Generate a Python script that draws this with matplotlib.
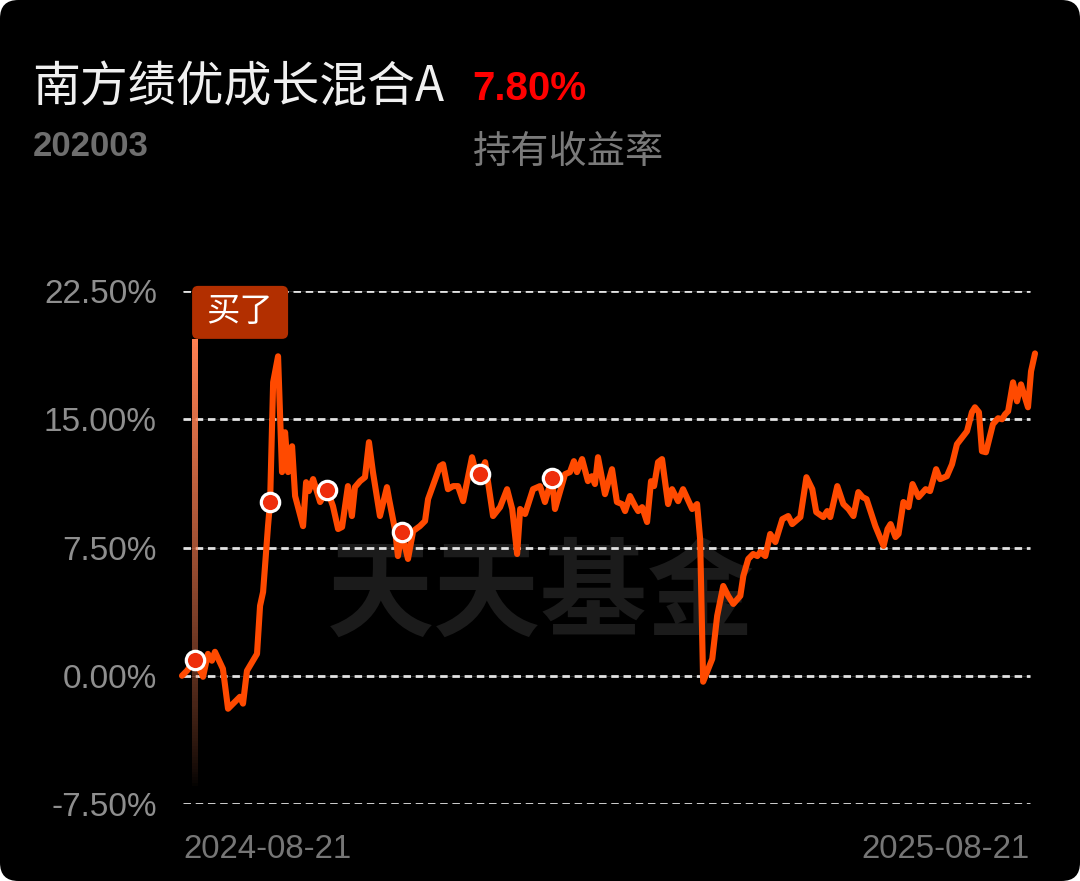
import numpy as np
import matplotlib
matplotlib.use("Agg")
import matplotlib.pyplot as plt
from matplotlib import font_manager
from matplotlib.collections import LineCollection
from matplotlib.patches import FancyBboxPatch
from matplotlib.transforms import IdentityTransform

plt.rcParams['font.family'] = ['Liberation Sans', 'Noto Sans CJK SC', 'DejaVu Sans']

# days since 2024-08-21 and holding return (%)
days = [0.0, 2.1, 5.6, 9.0, 11.1, 12.8, 14.1, 17.5, 19.7, 24.8, 26.1, 27.8, 32.1, 33.4, 34.7,
        36.8, 37.7, 39.0, 41.1, 42.8, 44.1, 45.4, 47.1, 48.4, 51.8, 53.1, 54.3, 56.1, 59.1,
        62.1, 64.6, 66.8, 68.5, 71.0, 72.7, 74.0, 76.2, 78.3, 80.0, 81.7, 84.7, 87.7, 88.6,
        91.1, 92.4, 94.1, 95.4, 96.7, 98.9, 101.8, 104.0, 105.3, 110.4, 111.7, 113.8, 116.0,
        118.1, 120.3, 124.1, 125.4, 127.5, 129.7, 133.1, 136.1, 139.1, 141.3, 143.4, 144.7,
        146.8, 150.2, 153.2, 155.3, 158.3, 159.6, 163.9, 166.0, 167.7, 169.0, 171.2, 173.7,
        175.4, 176.7, 178.0, 181.0, 184.0, 186.1, 188.3, 189.6, 191.7, 193.9, 195.2, 196.9,
        199.0, 200.7, 202.0, 203.7, 205.4, 208.0, 209.7, 212.3, 214.4, 218.3, 220.4, 221.7,
        223.0, 225.2, 226.9, 229.0, 231.6, 233.7, 235.9, 238.9, 240.2, 242.3, 244.4, 246.2,
        247.4, 249.6, 251.7, 253.9, 256.9, 259.4, 261.1, 264.6, 267.2, 269.7, 271.4, 274.4,
        276.1, 277.4, 280.4, 283.0, 285.2, 287.3, 289.4, 291.2, 292.9, 296.7, 300.2, 301.9,
        303.2, 305.3, 306.6, 308.7, 310.9, 312.6, 315.2, 318.2, 320.1, 322.7, 324.4, 327.3,
        329.5, 331.6, 335.9, 338.0, 339.3, 341.0, 342.3, 344.0, 347.0, 349.2, 350.9, 352.2,
        353.5, 355.6, 357.3, 359.0, 362.0, 363.3, 365.0]
vals = [0.00, 0.29, 0.93, -0.06, 1.28, 0.88, 1.40, 0.41, -1.93, -1.23, -1.63, 0.29, 1.28, 4.09,
        4.90, 8.75, 10.16, 17.16, 18.68, 11.91, 14.24, 11.91, 13.42, 10.51, 8.75, 11.32, 10.80,
        11.50, 10.16, 10.86, 9.92, 8.58, 8.70, 11.09, 9.34, 11.03, 11.38, 11.61, 13.66, 11.91,
        9.34, 11.03, 10.33, 8.58, 7.00, 8.40, 7.59, 6.83, 8.46, 8.75, 9.05, 10.33, 12.26, 12.37,
        10.91, 11.09, 11.09, 10.21, 12.78, 12.08, 11.79, 12.49, 9.34, 9.86, 10.91, 9.75, 7.12,
        9.75, 9.46, 10.91, 11.09, 10.16, 11.56, 9.75, 11.79, 11.91, 12.55, 11.91, 12.67, 11.38,
        11.67, 11.21, 12.78, 10.62, 12.08, 10.16, 10.04, 9.63, 10.51, 9.92, 9.63, 9.86, 8.99,
        11.38, 11.09, 12.49, 12.67, 10.04, 10.91, 10.21, 10.91, 9.75, 10.04, 8.00, -0.35, 0.41,
        0.99, 3.50, 5.25, 4.67, 4.20, 4.67, 5.84, 6.83, 7.12, 7.00, 7.24, 7.00, 8.29, 7.82,
        9.16, 9.34, 8.87, 9.28, 11.61, 10.91, 9.57, 9.28, 9.63, 9.28, 11.09, 10.04, 9.75, 9.34,
        10.74, 10.45, 10.33, 8.75, 7.59, 8.58, 8.87, 8.11, 8.29, 10.16, 9.86, 11.21, 10.45,
        10.91, 10.80, 12.08, 11.50, 11.67, 12.37, 13.54, 14.30, 15.41, 15.70, 15.41, 13.13,
        13.07, 14.71, 15.06, 15.00, 15.29, 15.47, 17.16, 16.05, 17.04, 15.70, 17.80, 18.85]

trade_days = [5.6, 37.7, 62.1, 94.1, 127.5, 158.3]   # dots on the curve
buy_day = 5.6
y_ticks = [-7.5, 0.0, 7.5, 15.0, 22.5]
y_labels = ['-7.50%', '0.00%', '7.50%', '15.00%', '22.50%']
date_labels = ['2024-08-21', '2025-08-21']

W, H = 1080, 881
fig = plt.figure(figsize=(W / 100, H / 100), dpi=100)
fig.patch.set_facecolor('white')

# rounded black card
fig.add_artist(FancyBboxPatch((0, 0), 1, 1, boxstyle='round,pad=0,rounding_size=0.017',
                              mutation_aspect=W / H, transform=fig.transFigure,
                              facecolor='black', edgecolor='none', zorder=-2))

ax = fig.add_axes([182 / W, 1 - 804 / H, 853 / W, 513 / H])
ax.set_facecolor('none')
ax.set_xlim(0, 365)
ax.set_ylim(-7.5, 22.5)
for s in ax.spines.values():
    s.set_visible(False)
ax.set_xticks([])
ax.set_yticks(y_ticks)
ax.set_yticklabels(y_labels)
ax.tick_params(axis='y', length=0, pad=18, labelsize=24, labelcolor='#8e8e8e')

# watermark
fig.text(541 / W, 1 - 596 / H, '天天基金', family=['Noto Sans CJK SC'], weight='bold',
         fontsize=77, color='#1b1b1b', ha='center', va='center', zorder=-1)

# grid
for t in y_ticks:
    ax.axhline(t, xmin=0.001, xmax=0.994, color='#262626', lw=0.8, zorder=1)
    ax.axhline(t, xmin=0.001, xmax=0.994, color='#e2e2e2', lw=2, dashes=(2.7, 1.7), zorder=1.5)

# buy bar with fading gradient
ys = np.linspace(19.7, -6.6, 160)
segs = [[(buy_day, ys[i]), (buy_day, ys[i + 1])] for i in range(len(ys) - 1)]
alphas = np.linspace(1.0, 0.0, len(segs)) ** 0.75
cols = [(1.0, 0.5, 0.32, a) for a in alphas]
ax.add_collection(LineCollection(segs, colors=cols, linewidths=4.0, zorder=2,
                                 capstyle='butt', antialiased=False))

ax.plot(days, vals, color='#FF4A00', lw=4.4, solid_joinstyle='round',
        solid_capstyle='round', zorder=3, clip_on=False)

my = np.interp(trade_days, days, vals)
ax.scatter(trade_days, my, s=175, facecolor='#EE2E0C', edgecolor='white',
           linewidth=2.3, zorder=4, clip_on=False)

# "买了" tag anchored to the buy bar
bx, by = ax.transData.transform((buy_day, 19.7))
tag = FancyBboxPatch((bx - 3, by), 96, 53, boxstyle='round,pad=0,rounding_size=6',
                     transform=IdentityTransform(), facecolor='#B22F00',
                     edgecolor='none', zorder=5)
fig.add_artist(tag)
fig.text((bx + 45) / W, (by + 27) / H, '买了', family=['Noto Sans CJK SC'],
         fontsize=24, color='white', ha='center', va='center', zorder=6)

# header texts
fig.text(32 / W, 1 - 87 / H, '南方绩优成长混合A', family=['Noto Sans CJK SC'],
         fontsize=34.5, color='#f0f0f0', ha='left', va='center')
names = {f.name for f in font_manager.fontManager.ttflist}
if 'Liberation Sans Narrow' in names:
    fig.text(473 / W, 1 - 89 / H, '7.80%', family=['Liberation Sans Narrow'],
             weight='bold', fontsize=34.5, color='#FF0000', ha='left', va='center')
else:
    fig.text(472 / W, 1 - 89 / H, '7.80%', weight='bold', fontsize=29,
             color='#FF0000', ha='left', va='center')
fig.text(33 / W, 1 - 146 / H, '202003', weight='bold', fontsize=25,
         color='#6e6e6e', ha='left', va='center')
fig.text(473 / W, 1 - 152 / H, '持有收益率', family=['Noto Sans CJK SC'],
         fontsize=27.5, color='#7a7a7a', ha='left', va='center')

fig.text(183 / W, 1 - 850 / H, date_labels[0], fontsize=23.8, color='#767676',
         ha='left', va='center')
fig.text(1030 / W, 1 - 850 / H, date_labels[1], fontsize=23.8, color='#767676',
         ha='right', va='center')

fig.savefig('out.png', dpi=100, facecolor=fig.get_facecolor())
